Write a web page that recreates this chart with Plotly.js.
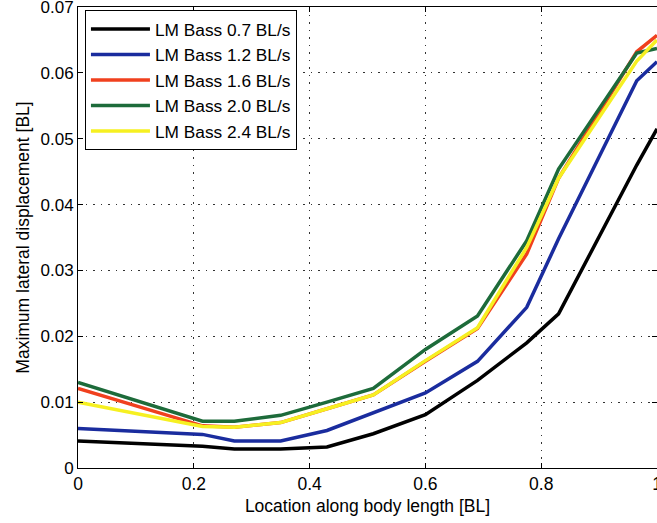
<!DOCTYPE html>
<html>
<head>
<meta charset="utf-8">
<script src="https://cdn.plot.ly/plotly-3.0.1.min.js"></script>
<style>html,body{margin:0;padding:0;background:#fff;}#chart{width:657px;height:523px;}</style>
</head>
<body>
<div id="chart"></div>
<script>
// Location along body length [BL]
var location_bl = [0, 0.215, 0.27, 0.35, 0.43, 0.51, 0.6, 0.69, 0.775, 0.83, 0.965, 1.0];

var bass_07 = [0.0041, 0.0033, 0.0029, 0.0029, 0.0032, 0.0052, 0.0081, 0.0133, 0.0190, 0.0234, 0.0460, 0.0515];
var bass_12 = [0.0060, 0.0051, 0.0041, 0.0041, 0.0057, 0.0084, 0.0114, 0.0162, 0.0244, 0.0348, 0.0588, 0.0617];
var bass_16 = [0.0121, 0.0064, 0.0062, 0.0069, 0.0090, 0.0111, 0.0162, 0.0212, 0.0325, 0.0440, 0.0632, 0.0657];
var bass_20 = [0.0130, 0.0071, 0.0071, 0.0080, 0.0100, 0.0121, 0.0180, 0.0231, 0.0345, 0.0454, 0.0630, 0.0637];
var bass_24 = [0.0100, 0.0063, 0.0062, 0.0069, 0.0090, 0.0111, 0.0163, 0.0213, 0.0335, 0.0440, 0.0618, 0.0650];

var seriesNames = ["LM Bass 0.7 BL/s", "LM Bass 1.2 BL/s", "LM Bass 1.6 BL/s", "LM Bass 2.0 BL/s", "LM Bass 2.4 BL/s"];
var seriesData = [bass_07, bass_12, bass_16, bass_20, bass_24];
var seriesColors = ["#000000", "#1a2c9e", "#f0401e", "#1d6b3a", "#f6f021"];

var xTickVals = [0, 0.2, 0.4, 0.6, 0.8, 1];
var xTickText = ["0", "0.2", "0.4", "0.6", "0.8", "1"];
var yTickVals = [0, 0.01, 0.02, 0.03, 0.04, 0.05, 0.06, 0.07];
var yTickText = ["0", "0.01", "0.02", "0.03", "0.04", "0.05", "0.06", "0.07"];

var traces = seriesNames.map(function (name, i) {
  return {
    x: location_bl,
    y: seriesData[i],
    type: "scatter",
    mode: "lines",
    name: name,
    line: {color: seriesColors[i], width: 3.5},
    hoverinfo: "skip"
  };
});

var font = "Liberation Sans, Arial, Helvetica, sans-serif";

var layout = {
  width: 657,
  height: 523,
  margin: {l: 78, r: 0, t: 7, b: 55},
  paper_bgcolor: "#ffffff",
  plot_bgcolor: "#ffffff",
  font: {family: font, size: 17.5, color: "#000"},
  showlegend: true,
  legend: {
    x: 0.012, y: 0.993, xanchor: "left", yanchor: "top",
    bordercolor: "#000", borderwidth: 1, bgcolor: "#fff",
    font: {family: font, size: 17.3, color: "#000"},
    itemwidth: 59,
    tracegroupgap: 0
  },
  xaxis: {
    range: [0, 1],
    tickvals: xTickVals, ticktext: xTickText,
    ticks: "inside", ticklen: 5, tickcolor: "#000",
    ticklabeloverflow: "allow",
    showline: true, linecolor: "#000", linewidth: 1, mirror: "ticks",
    showgrid: true, gridcolor: "#333", griddash: "1.5px,6px", gridwidth: 1,
    zeroline: false,
    tickfont: {family: font, size: 17.5, color: "#000"},
    title: {text: "Location along body length [BL]", font: {family: font, size: 17.5, color: "#000"}, standoff: 6}
  },
  yaxis: {
    range: [0, 0.07],
    tickvals: yTickVals, ticktext: yTickText,
    ticks: "inside", ticklen: 5, tickcolor: "#000",
    ticklabeloverflow: "allow",
    showline: true, linecolor: "#000", linewidth: 1, mirror: "ticks",
    showgrid: true, gridcolor: "#333", griddash: "1.5px,6px", gridwidth: 1,
    zeroline: false,
    tickfont: {family: font, size: 17, color: "#000"},
    title: {text: "Maximum lateral displacement [BL]", font: {family: font, size: 17.5, color: "#000"}, standoff: 6}
  }
};

Plotly.newPlot("chart", traces, layout, {displayModeBar: false, staticPlot: true});
</script>
</body>
</html>
